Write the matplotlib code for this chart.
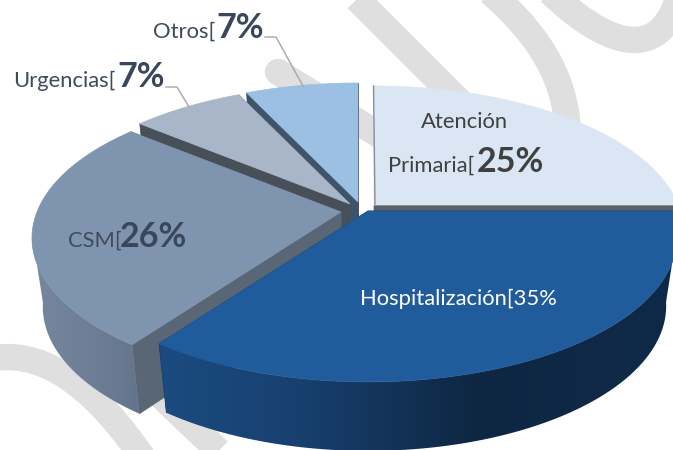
import numpy as np
import matplotlib
matplotlib.use("Agg")
import matplotlib.pyplot as plt
from matplotlib.colors import LinearSegmentedColormap, Normalize
from matplotlib.patches import PathPatch, Polygon
from matplotlib.path import Path

categories = ["Atención Primaria", "Hospitalización", "CSM", "Urgencias", "Otros"]
shares = [25, 35, 26, 7, 7]
top_colors = ["#dae6f3", "#205c9b", "#7f94ae", "#a9b6c9", "#9bc0e3"]
cut_colors = ["#5b6067", "#16365c", "#596675", "#474f58", "#3e5469"]

plt.rcParams["font.family"] = ["Lato", "DejaVu Sans"]

# pixel layout of the exploded pie
APEX = {"Atención Primaria": (374, 205), "Hospitalización": (368, 211), "CSM": (341, 212),
        "Urgencias": (350, 204), "Otros": (358, 202)}
RX, RY, PERSP = 304, 140.3, 0.179
DEPTH, BOTTOM_SCALE = 69, 0.965

# wall gradients, (x, colour) stops left to right
WALLS = {
    "Hospitalización": [(157, "#1b4b80"), (300, "#17406f"), (480, "#0e2642"), (673, "#0f2a48")],
    "CSM": [(30, "#76879f"), (90, "#6d7e96"), (140, "#64758b")],
}


def project(angle, r=1.0):
    """Clockwise angle from 12 o'clock to pixel offset from the apex, with perspective."""
    u, v = r * np.sin(angle), r * np.cos(angle)
    d = 1 + PERSP * v
    return RX * u / d, -RY * v / d


def draw_wall(ax, stops, top_x, top_y, low_x, low_y):
    x0, x1 = stops[0][0], stops[-1][0]
    cmap = LinearSegmentedColormap.from_list(
        "wall", [((x - x0) / (x1 - x0), c) for x, c in stops])
    outline = Polygon(np.column_stack([np.r_[top_x, low_x[::-1]], np.r_[top_y, low_y[::-1]]]),
                      fc="none", ec="none", transform=ax.transData)
    ax.add_patch(outline)
    im = ax.imshow(np.linspace(0, 1, 256)[None, :], extent=(x0, x1, 460, 60), cmap=cmap,
                   norm=Normalize(0, 1), aspect="auto", interpolation="bilinear", zorder=next(layer))
    im.set_clip_path(outline)
    ax.set_xlim(0, 673)
    ax.set_ylim(450, 0)


def draw_slice(ax, name, a0, a1, top, cut):
    cx, cy = APEX[name]
    th = np.linspace(a0, a1, 160)
    ox, oy = project(th)
    top_x, top_y = cx + ox, cy + oy
    low_x = cx + ox * BOTTOM_SCALE
    low_y = cy + oy + DEPTH

    # cut faces
    for i in (0, -1):
        ax.add_patch(Polygon([(cx, cy), (top_x[i], top_y[i]), (low_x[i], low_y[i]), (cx, cy + DEPTH)],
                             fc=cut, ec=cut, lw=0.5, zorder=next(layer)))
    # outer wall, only the part that faces the viewer
    if name in WALLS:
        front = np.cos(th) < -0.15
        draw_wall(ax, WALLS[name], top_x[front], top_y[front], low_x[front], low_y[front])
    ax.add_patch(Polygon(np.column_stack([np.r_[cx, top_x], np.r_[cy, top_y]]), fc=top, ec=top, lw=0.5,
                         zorder=next(layer)))


def stroke(ax, verts, codes, cap="butt"):
    ax.add_patch(PathPatch(Path(verts, codes), fc="none", ec="#dfdfdf", lw=19, capstyle=cap, zorder=0))


layer = iter(range(1, 100))

fig = plt.figure(figsize=(6.73, 4.5), dpi=100)
ax = fig.add_axes([0, 0, 1, 1])
ax.set_xlim(0, 673)
ax.set_ylim(450, 0)
ax.axis("off")

# watermark behind the chart
M, L, C3, C4 = Path.MOVETO, Path.LINETO, Path.CURVE3, Path.CURVE4
stroke(ax, [(278, 72), (400, 148)], [M, L], cap="round")
stroke(ax, [(350, -8), (468, 110)], [M, L])
stroke(ax, [(490, -8), (545, 40), (568, 85), (568, 140)], [M, C4, C4, C4])
stroke(ax, [(550, -8), (600, 40), (660, 70), (680, -8)], [M, C4, C4, C4])
stroke(ax, [(-5, 358), (50, 350), (100, 395), (143, 458)], [M, C4, C4, C4])
stroke(ax, [(160, 395), (226, 458)], [M, L])

# slices start at 12 o'clock and go clockwise; paint back to front
edges = np.cumsum([0] + shares) / sum(shares) * 2 * np.pi
for i in (4, 3, 0, 2, 1):
    draw_slice(ax, categories[i], edges[i], edges[i + 1], top_colors[i], cut_colors[i])
ax.plot([373.5, 375], [86, 204], color="#8a8f96", lw=1, zorder=50)

# leader lines
ax.plot([265, 276, 303], [37, 37, 86], color="#a6a6a6", lw=1, zorder=50)
ax.plot([166, 177, 189], [87, 87, 107], color="#a6a6a6", lw=1, zorder=50)

REG, BIG = 15.8, 24.5
GREY, DARK = "#404b5a", "#39475c"
labels = [
    (153, 38, "Otros[", REG, GREY, "normal"),
    (216, 38, "7%", BIG, DARK, "bold"),
    (13, 87, "Urgencias[", REG, GREY, "normal"),
    (117, 87, "7%", BIG, DARK, "bold"),
    (68, 247, "CSM[", REG, GREY, "normal"),
    (120, 247, "26%", BIG, DARK, "bold"),
    (421, 128, "Atención", REG, "#404040", "normal"),
    (388, 172, "Primaria[", REG, "#404040", "normal"),
    (477, 172, "25%", BIG, "#404040", "bold"),
    (360, 305, "Hospitalización[35%", REG, "white", "normal"),
]
for x, y, txt, size, col, weight in labels:
    ax.text(x, y, txt, fontsize=size, color=col, fontweight=weight, va="baseline", zorder=60)

fig.savefig("out.png", dpi=100)
